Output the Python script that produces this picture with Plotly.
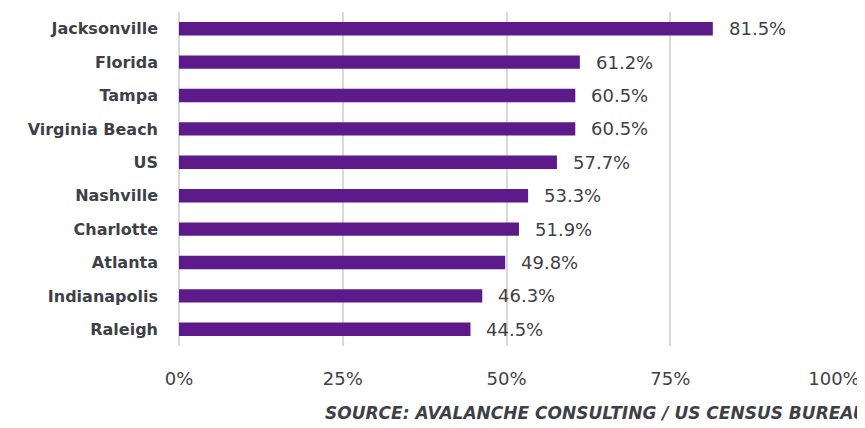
import plotly.graph_objects as go

categories = ["Jacksonville", "Florida", "Tampa", "Virginia Beach", "US",
              "Nashville", "Charlotte", "Atlanta", "Indianapolis", "Raleigh"]
values = [81.5, 61.2, 60.5, 60.5, 57.7, 53.3, 51.9, 49.8, 46.3, 44.5]
tick_vals = [0, 25, 50, 75, 100]
tick_text = ["0%", "25%", "50%", "75%", "100%"]
source_text = "SOURCE: AVALANCHE CONSULTING / US CENSUS BUREAU"

bar_color = "#5C1A8A"
text_color = "#3f3f47"
font_family = "'DejaVu Sans', Verdana, sans-serif"

# page body has an 8px offset; margins compensate so the plot area matches
fig = go.Figure()
fig.add_trace(go.Bar(
    y=categories, x=values, orientation="h",
    marker=dict(color=bar_color, line=dict(width=0)),
    width=0.4, hoverinfo="skip",
))

for c, v in zip(categories, values):
    fig.add_annotation(x=v, y=c, xref="x", yref="y", text=f"{v:.1f}%",
                       showarrow=False, xanchor="left", xshift=14,
                       font=dict(size=18, color=text_color, family=font_family))

fig.add_annotation(x=(323 - 179) / 655, y=0, xref="paper", yref="paper",
                   yshift=-67, yanchor="middle",
                   text=source_text, showarrow=False, xanchor="left",
                   font=dict(size=17, color=text_color, family=font_family,
                             weight="bold", style="italic"))

fig.update_layout(
    width=865, height=428,
    margin=dict(l=171, r=39, t=4, b=90, autoexpand=False),
    paper_bgcolor="white", plot_bgcolor="white",
    showlegend=False, bargap=0.6,
    font=dict(family=font_family, color=text_color),
    xaxis=dict(range=[0, 100], tickvals=tick_vals, ticktext=tick_text,
               showgrid=True, gridcolor="#d9d9d9", gridwidth=1.5,
               zeroline=True, zerolinecolor="#d9d9d9", zerolinewidth=1.5,
               showline=False, ticks="", ticklabelstandoff=20, automargin=False,
               tickfont=dict(size=18, color=text_color, family=font_family),
               fixedrange=True),
    yaxis=dict(autorange="reversed", showgrid=False, zeroline=False,
               showline=False, ticks="", ticklabelstandoff=20, automargin=False,
               tickfont=dict(size=16, color=text_color, family=font_family,
                             weight="bold"),
               fixedrange=True),
)

fig.write_html("out.html")
